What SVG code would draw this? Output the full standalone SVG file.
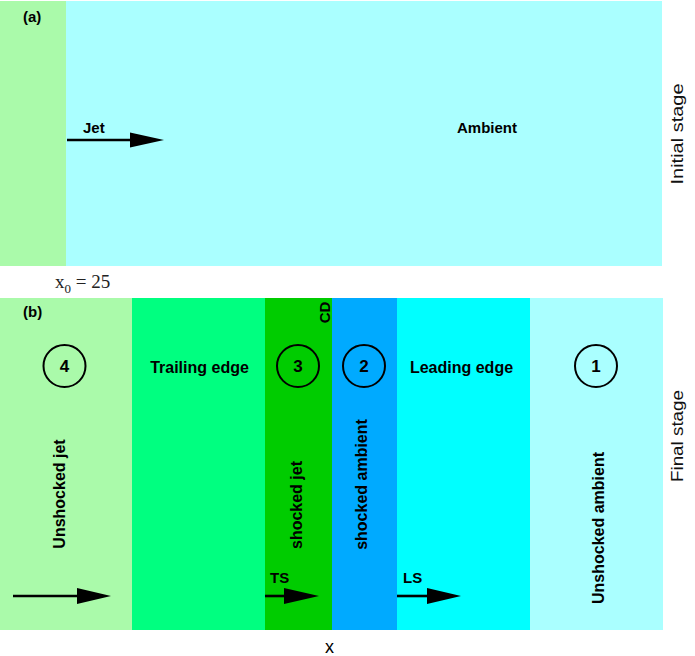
<svg xmlns="http://www.w3.org/2000/svg" width="695" height="656" viewBox="0 0 695 656">
<style>
.lbl{font-family:"Liberation Sans",Arial,sans-serif;font-weight:bold;fill:#000}
.side{font-family:"Liberation Sans",Arial,sans-serif;font-size:17px;fill:#111}
.circ{fill:none;stroke:#000;stroke-width:2}
.shaft{stroke:#000;stroke-width:2.6;fill:none}
.head{fill:#000}
</style>
<rect width="695" height="656" fill="#fff"/>
<g id="panel-a">
  <rect id="a-jet" x="0" y="1" width="66" height="265" fill="#AAFAAA"/>
  <rect id="a-ambient" x="66" y="1" width="596" height="265" fill="#AAFFFF"/>
  <text class="lbl" x="23" y="22" font-size="15">(a)</text>
  <text class="lbl" x="83" y="133" font-size="15">Jet</text>
  <text class="lbl" x="487" y="133" font-size="15" text-anchor="middle">Ambient</text>
  <text class="side" transform="translate(683,134) rotate(-90)" text-anchor="middle" textLength="101" lengthAdjust="spacingAndGlyphs">Initial stage</text>
</g>
<g id="x0-label">
  <text font-family="'Liberation Serif','Times New Roman',serif" font-size="19" fill="#222" x="55" y="288">x<tspan font-size="13" dy="5">0</tspan><tspan dy="-5"> = 25</tspan></text>
</g>
<g id="panel-b">
  <g id="region4">
    <rect x="0" y="298" width="132" height="332" fill="#AAFAAA"/>
    <text class="lbl" x="23" y="317" font-size="15">(b)</text>
    <circle class="circ" cx="64.5" cy="366" r="21"/>
    <text class="lbl" x="64.5" y="372" font-size="17" text-anchor="middle">4</text>
    <text class="lbl" font-size="16" text-anchor="middle" transform="translate(64.5,494) rotate(-90)">Unshocked jet</text>
  </g>
  <g id="trailing-edge">
    <rect x="132" y="298" width="133" height="332" fill="#00FF80"/>
    <text class="lbl" x="199.5" y="373" font-size="16" text-anchor="middle">Trailing edge</text>
  </g>
  <g id="region3">
    <rect x="265" y="298" width="67" height="332" fill="#00CC00"/>
    <circle class="circ" cx="298" cy="366" r="21"/>
    <text class="lbl" x="298" y="372" font-size="17" text-anchor="middle">3</text>
    <text class="lbl" font-size="16" text-anchor="middle" transform="translate(301.5,505) rotate(-90)">shocked jet</text>
    <text class="lbl" font-size="15" text-anchor="middle" transform="translate(329.5,312.5) rotate(-90)">CD</text>
    <text class="lbl" x="270" y="583" font-size="15">TS</text>
  </g>
  <g id="region2">
    <rect x="332" y="298" width="65" height="332" fill="#00AAFF"/>
    <circle class="circ" cx="364" cy="366" r="21"/>
    <text class="lbl" x="364" y="372" font-size="17" text-anchor="middle">2</text>
    <text class="lbl" font-size="16" text-anchor="middle" transform="translate(366.5,484.5) rotate(-90)">shocked ambient</text>
  </g>
  <g id="leading-edge">
    <rect x="397" y="298" width="133" height="332" fill="#00FFFF"/>
    <text class="lbl" x="461.5" y="373" font-size="16" text-anchor="middle">Leading edge</text>
    <text class="lbl" x="403" y="583" font-size="15">LS</text>
  </g>
  <g id="region1">
    <rect x="530" y="298" width="133" height="332" fill="#AAFFFF"/>
    <circle class="circ" cx="596" cy="366" r="21"/>
    <text class="lbl" x="596" y="372" font-size="17" text-anchor="middle">1</text>
    <text class="lbl" font-size="16" text-anchor="middle" transform="translate(603.5,528) rotate(-90)">Unshocked ambient</text>
  </g>
  <text class="side" transform="translate(683,436) rotate(-90)" text-anchor="middle" textLength="92" lengthAdjust="spacingAndGlyphs">Final stage</text>
  <text font-family="'Liberation Sans',Arial,sans-serif" font-size="18" fill="#000" x="329.5" y="653" text-anchor="middle">x</text>
</g>
<g id="connectors">
  <line class="shaft" x1="67" y1="140" x2="132" y2="140"/>
  <polygon class="head" points="130,132.5 164,140 130,147.5"/>
  <line class="shaft" x1="13" y1="596" x2="79" y2="596"/>
  <polygon class="head" points="77,588 111,596 77,604"/>
  <line class="shaft" x1="265" y1="596" x2="286" y2="596"/>
  <polygon class="head" points="284,588 319,596 284,604"/>
  <line class="shaft" x1="397" y1="596" x2="429" y2="596"/>
  <polygon class="head" points="427,588 461,596 427,604"/>
</g>
</svg>
